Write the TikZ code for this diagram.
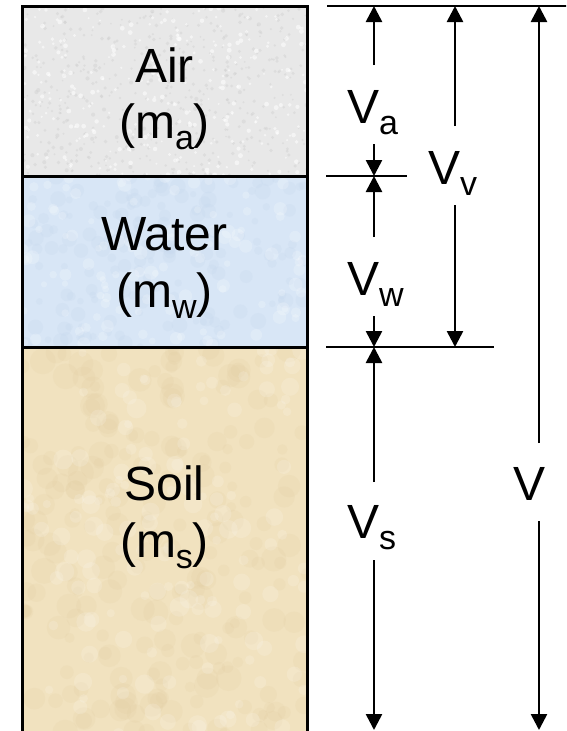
\documentclass[tikz,border=0pt]{standalone}
\usepackage{fontspec}
\setmainfont{Liberation Sans}
\usetikzlibrary{arrows.meta}
\definecolor{airc}{RGB}{232,232,232}
\definecolor{airdk}{RGB}{208,208,208}
\definecolor{waterc}{RGB}{216,230,246}
\definecolor{waterdk}{RGB}{200,217,238}
\definecolor{soilc}{RGB}{241,226,191}
\definecolor{soildk}{RGB}{228,208,166}
\newcommand\subx[1]{\raisebox{-11pt}{\fontsize{34}{34}\selectfont #1}}
\tikzset{
  lbl/.style={font=\fontsize{48}{56}\selectfont, inner sep=0pt},
  dim/.style={line width=2.6pt},
  dimarrow/.style={line width=2.6pt, -{Triangle[width=16pt,length=16pt]}},
  layer/.style={line width=3pt, draw=black}
}
\begin{document}
\begin{tikzpicture}[x=1pt,y=-1pt]
\useasboundingbox (0,0) rectangle (566,731);
\clip (0,0) rectangle (566,731);
% layers
\fill[airc] (22,6) rectangle (307,176);
\fill[waterc] (22,176) rectangle (307,347);
\fill[soilc] (22,347) rectangle (307,740);
\pgfmathsetseed{7}
\begin{scope}
\clip (22,6) rectangle (307,176);
\foreach \i in {1,...,500}{
  \pgfmathsetmacro\px{22+285*rnd}\pgfmathsetmacro\py{6+170*rnd}
  \fill[airdk, opacity=0.45] (\px,\py) circle (0.9pt+1.2pt*rnd);
}
\foreach \i in {1,...,300}{
  \pgfmathsetmacro\px{22+285*rnd}\pgfmathsetmacro\py{6+170*rnd}
  \fill[white, opacity=0.55] (\px,\py) circle (1pt+1.5pt*rnd);
}
\end{scope}
\begin{scope}
\clip (22,176) rectangle (307,347);
\foreach \i in {1,...,160}{
  \pgfmathsetmacro\px{22+285*rnd}\pgfmathsetmacro\py{176+171*rnd}
  \fill[waterdk, opacity=0.3] (\px,\py) circle (3pt+5pt*rnd);
}
\foreach \i in {1,...,120}{
  \pgfmathsetmacro\px{22+285*rnd}\pgfmathsetmacro\py{176+171*rnd}
  \fill[white, opacity=0.2] (\px,\py) circle (3pt+4pt*rnd);
}
\end{scope}
\begin{scope}
\clip (22,347) rectangle (307,740);
\foreach \i in {1,...,220}{
  \pgfmathsetmacro\px{22+285*rnd}\pgfmathsetmacro\py{347+390*rnd}
  \fill[soildk, opacity=0.22] (\px,\py) circle (5pt+8pt*rnd);
}
\foreach \i in {1,...,150}{
  \pgfmathsetmacro\px{22+285*rnd}\pgfmathsetmacro\py{347+390*rnd}
  \fill[white, opacity=0.15] (\px,\py) circle (4pt+6pt*rnd);
}
\end{scope}
\draw[layer] (22,740) -- (22,6) -- (307,6) -- (307,740);
\draw[layer] (22,176) -- (307,176);
\draw[layer] (22,347) -- (307,347);
% layer texts
\node[lbl, anchor=base] (air) at (164.5,82) {Air};
\node[lbl, anchor=base] (ma) at (164.5,138) {(m\subx{a})};
\node[lbl, anchor=base] (water) at (164.5,250) {Water};
\node[lbl, anchor=base] (mw) at (164.5,307) {(m\subx{w})};
\node[lbl, anchor=base] (soil) at (164.5,500) {Soil};
\node[lbl, anchor=base] (ms) at (164.5,557) {(m\subx{s})};
% reference lines
\coordinate (t0) at (327,6);   \coordinate (t1) at (570,6);
\coordinate (m0) at (326,176); \coordinate (m1) at (407,176);
\coordinate (b0) at (326,347); \coordinate (b1) at (494,347);
\draw[dim] (t0) -- (t1);
\draw[dim] (m0) -- (m1);
\draw[dim] (b0) -- (b1);
% dimension labels
\node[lbl, anchor=base west] (va) at (347,123) {V\subx{a}};
\node[lbl, anchor=base west] (vv) at (428,184) {V\subx{v}};
\node[lbl, anchor=base west] (vw) at (347,295) {V\subx{w}};
\node[lbl, anchor=base west] (vs) at (347,538) {V\subx{s}};
\node[lbl, anchor=base west] (vt) at (513,500) {V};
% arrow coordinates
\coordinate (a1) at (374,65);  \coordinate (a0) at (374,6);
\coordinate (a2) at (374,144); \coordinate (a3) at (374,176);
\coordinate (w1) at (374,237); \coordinate (w2) at (374,316); \coordinate (w3) at (374,347);
\coordinate (s1) at (374,482); \coordinate (s2) at (374,560); \coordinate (s3) at (374,730);
\coordinate (vv0) at (455,6); \coordinate (vv1) at (455,126);
\coordinate (vv2) at (455,205); \coordinate (vv3) at (455,347);
\coordinate (v0) at (539,6); \coordinate (v1) at (539,443);
\coordinate (v2) at (539,521); \coordinate (v3) at (539,730);
\draw[dimarrow] (a1) -- (a0);
\draw[dimarrow] (a2) -- (a3);
\draw[dimarrow] (w1) -- (a3);
\draw[dimarrow] (w2) -- (w3);
\draw[dimarrow] (s1) -- (w3);
\draw[dimarrow] (s2) -- (s3);
\draw[dimarrow] (vv1) -- (vv0);
\draw[dimarrow] (vv2) -- (vv3);
\draw[dimarrow] (v1) -- (v0);
\draw[dimarrow] (v2) -- (v3);
\end{tikzpicture}
\end{document}
